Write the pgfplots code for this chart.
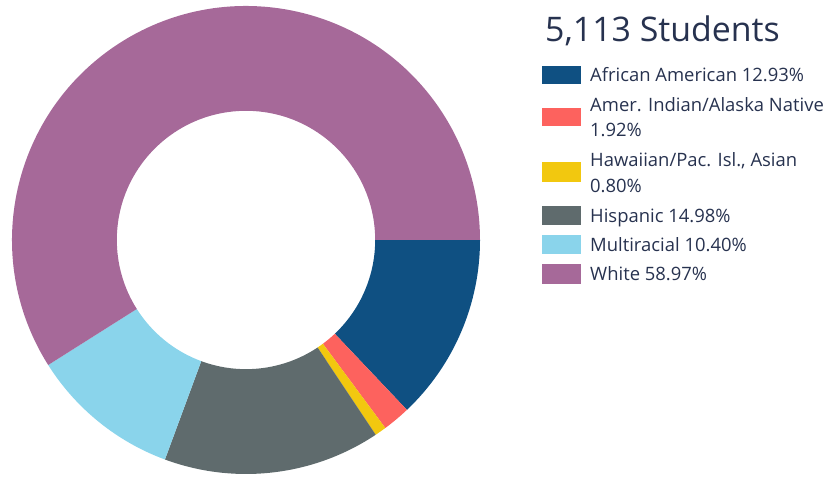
\documentclass[border=0pt]{standalone}
\usepackage{pgfplots}
\pgfplotsset{compat=1.18}
\usepackage{pgfplotstable}
\usepackage{fontspec}
\setmainfont{Open Sans}

\definecolor{cAA}{HTML}{0F5082}
\definecolor{cAI}{HTML}{FD625E}
\definecolor{cHP}{HTML}{F2C80F}
\definecolor{cHI}{HTML}{5F6B6D}
\definecolor{cMR}{HTML}{8AD4EB}
\definecolor{cWH}{HTML}{A66999}
\definecolor{txt}{HTML}{27324F}

% share of students, clockwise from 3 o'clock
\pgfplotstableread{
pct   col
12.93 cAA
1.92  cAI
0.80  cHP
14.98 cHI
10.40 cMR
58.97 cWH
}\shares

\begin{document}
\begin{tikzpicture}[x=1bp,y=1bp]
\useasboundingbox (0,0) rectangle (830,478);
\begin{axis}[
    at={(246bp,238bp)}, anchor=center,
    width=468bp, height=468bp, scale only axis,
    xmin=-1, xmax=1, ymin=-1, ymax=1,
    hide axis, disabledatascaling, clip=false,
]
\def\acc{0}
\pgfplotsforeachungrouped \i in {0,...,5}{
  \pgfplotstablegetelem{\i}{pct}\of\shares \let\v\pgfplotsretval
  \pgfplotstablegetelem{\i}{col}\of\shares \let\c\pgfplotsretval
  \pgfmathsetmacro\aS{-\acc*3.6}
  \pgfmathsetmacro\acc{\acc+\v}
  \pgfmathsetmacro\aE{-\acc*3.6}
  \pgfmathsetmacro\xo{cos(\aS)}\pgfmathsetmacro\yo{sin(\aS)}
  \pgfmathsetmacro\xi{0.552*cos(\aE)}\pgfmathsetmacro\yi{0.552*sin(\aE)}
  \edef\temp{\noexpand\fill[\c] (axis cs:\xo,\yo)
      arc[start angle=\aS, end angle=\aE, radius=1]
      -- (axis cs:\xi,\yi)
      arc[start angle=\aE, end angle=\aS, radius=0.552] -- cycle;}
  \temp
}
\end{axis}

\node[anchor=base west, inner sep=0, text=txt, font=\fontsize{34}{38}\selectfont] at (545,436) {5,113 Students};

\begin{scope}[every node/.style={anchor=base west, inner sep=0, text=txt, font=\fontsize{18.5}{22}\selectfont}]
\fill[cAA] (542,394) rectangle (581,412);
\node at (590,396) {African American 12.93\%};
\fill[cAI] (542,352) rectangle (581,370);
\node at (590,366) {Amer. Indian/Alaska Native};
\node at (590,341) {1.92\%};
\fill[cHP] (542,296) rectangle (581,316);
\node at (590,311) {Hawaiian/Pac. Isl., Asian};
\node at (590,285) {0.80\%};
\fill[cHI] (542,253) rectangle (581,272);
\node at (590,255) {Hispanic 14.98\%};
\fill[cMR] (542,224) rectangle (581,243);
\node at (590,226) {Multiracial 10.40\%};
\fill[cWH] (542,194) rectangle (581,214);
\node at (590,197) {White 58.97\%};
\end{scope}
\end{tikzpicture}
\end{document}
